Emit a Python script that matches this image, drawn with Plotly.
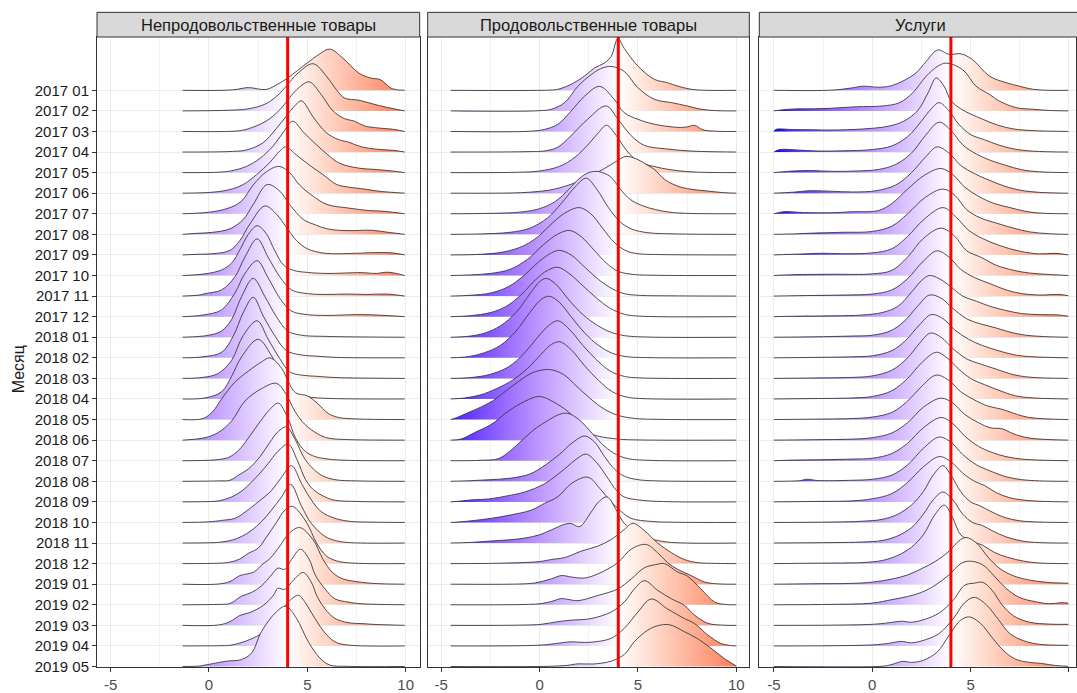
import plotly.graph_objects as go

# ---------------- data ----------------
months = ["2017 01", "2017 02", "2017 03", "2017 04", "2017 05", "2017 06", "2017 07",
          "2017 08", "2017 09", "2017 10", "2017 11", "2017 12", "2018 01", "2018 02",
          "2018 03", "2018 04", "2018 05", "2018 06", "2018 07", "2018 08", "2018 09",
          "2018 10", "2018 11", "2018 12", "2019 01", "2019 02", "2019 03", "2019 04",
          "2019 05"]
panel_titles = ["Непродовольственные товары", "Продовольственные товары", "Услуги"]
target_value = 4.0
x_tick_values = [-5, 0, 5, 10]
x_tick_labels = ["-5", "0", "5", "10"]

# each ridge: list of (x, density height in row units) points
nonfood_ridges = [
    [(-1.34,0),(1.2,0.02),(2.0,0.13),(2.9,0.04),(3.5,0.3),(4.0,0.6),(5.0,1.33),(5.6,1.75),(6.14,2.0),(6.8,1.57),(7.6,0.85),(8.2,0.6),(8.7,0.52),(9.3,0.08),(9.95,0)],
    [(-1.34,0),(1.0,0.03),(2.0,0.1),(2.9,0.35),(3.6,0.85),(4.1,1.4),(4.6,1.9),(5.3,2.29),(6.0,1.65),(6.5,1.0),(6.9,0.62),(7.6,0.52),(8.6,0.27),(9.4,0.1),(9.95,0)],
    [(-1.34,0),(1.5,0.03),(2.0,0.13),(2.9,0.5),(3.6,1.05),(4.1,1.65),(4.6,2.15),(5.1,2.41),(5.7,1.8),(6.3,1.0),(6.9,0.62),(7.4,0.5),(7.9,0.27),(8.6,0.17),(9.4,0.1),(9.95,0)],
    [(-1.34,0),(1.2,0.03),(1.9,0.1),(2.75,0.45),(3.43,1.15),(3.94,1.75),(4.37,2.25),(4.7,2.49),(5.3,1.7),(5.95,0.95),(6.6,0.6),(7.1,0.48),(7.75,0.25),(8.6,0.13),(9.4,0.08),(9.95,0)],
    [(-1.34,0),(0.5,0.02),(1.1,0.08),(1.9,0.3),(2.6,0.7),(3.27,1.3),(3.77,1.95),(4.25,2.5),(4.8,1.97),(5.3,1.5),(6.0,0.9),(6.65,0.45),(7.6,0.22),(8.5,0.15),(9.3,0.08),(9.95,0)],
    [(-1.34,0),(0.2,0.05),(1.07,0.18),(1.74,0.42),(2.42,0.9),(3.1,1.5),(3.6,2.05),(3.9,2.25),(4.45,1.85),(5.13,1.35),(5.8,0.9),(6.5,0.42),(7.07,0.3),(7.9,0.2),(8.6,0.1),(9.95,0)],
    [(-1.34,0),(-0.6,0.03),(0.2,0.1),(1.07,0.3),(1.66,0.62),(2.25,1.4),(2.93,2.05),(3.57,2.3),(4.1,2.0),(4.6,1.4),(5.3,0.85),(6.0,0.45),(7.07,0.28),(8.1,0.16),(8.9,0.12),(9.95,0)],
    [(-1.34,0),(-0.6,0.05),(0.2,0.1),(1.07,0.27),(1.74,0.72),(2.25,1.45),(2.96,2.42),(3.6,2.1),(4.1,1.45),(4.8,0.72),(5.3,0.5),(6.06,0.26),(7.07,0.18),(8.25,0.2),(9.1,0.1),(9.95,0)],
    [(-1.34,0),(-0.6,0.03),(0.2,0.06),(1.07,0.22),(1.57,0.7),(2.08,1.5),(2.84,2.38),(3.43,1.98),(3.94,1.34),(4.45,0.7),(5.0,0.3),(5.9,0.08),(7.5,0.08),(8.3,0.11),(9.3,0.1),(9.95,0)],
    [(-1.34,0),(-0.2,0.08),(0.64,0.27),(1.15,0.6),(1.6,1.3),(2.0,2.0),(2.45,2.42),(2.9,2.05),(3.35,1.2),(3.8,0.5),(4.3,0.25),(5.0,0.15),(6.0,0.1),(7.75,0.14),(8.5,0.1),(9.1,0.16),(9.95,0)],
    [(-1.34,0),(-0.5,0.05),(-0.2,0.12),(0.64,0.3),(1.32,0.94),(1.83,1.9),(2.45,2.78),(3.0,1.9),(3.6,0.94),(4.2,0.3),(5.0,0.12),(6.0,0.08),(7.0,0.1),(8.0,0.08),(9.0,0.1),(9.95,0)],
    [(-1.34,0),(-0.3,0.08),(0.64,0.33),(1.32,1.15),(1.83,2.1),(2.45,2.72),(3.0,1.9),(3.65,0.83),(4.2,0.27),(5.0,0.1),(6.0,0.06),(7.5,0.1),(8.5,0.08),(9.95,0)],
    [(-1.34,0),(-0.5,0.04),(0.0,0.1),(0.64,0.3),(1.15,0.86),(1.66,1.98),(2.25,2.86),(2.84,1.98),(3.43,1.0),(4.0,0.3),(4.7,0.1),(6.0,0.04),(9.95,0)],
    [(-1.34,0),(-0.3,0.05),(0.64,0.27),(1.24,1.07),(1.74,2.19),(2.25,2.94),(2.76,2.03),(3.35,1.07),(3.94,0.35),(4.7,0.14),(5.5,0.08),(6.5,0.02),(9.95,0)],
    [(-1.34,0),(-0.3,0.05),(0.47,0.24),(1.15,0.88),(1.74,2.08),(2.45,2.8),(3.0,1.92),(3.6,0.96),(4.1,0.32),(4.7,0.16),(5.5,0.1),(6.5,0.04),(9.95,0)],
    [(-1.34,0),(-0.2,0.05),(0.64,0.35),(1.15,1.1),(1.66,2.05),(2.5,2.9),(3.18,2.1),(3.69,1.15),(4.2,0.35),(5.0,0.11),(6.0,0.03),(9.95,0)],
    [(-1.34,0),(-0.3,0.05),(0.2,0.4),(0.64,1.0),(1.3,1.8),(2.0,2.35),(2.67,2.8),(3.1,3.0),(3.69,2.5),(4.03,1.85),(4.4,1.3),(5.0,1.15),(5.5,0.8),(6.06,0.3),(6.6,0.1),(7.5,0.03),(9.95,0)],
    [(-1.34,0),(-0.2,0.12),(0.47,0.37),(1.15,0.93),(1.83,1.9),(2.67,2.5),(3.43,2.76),(3.94,2.2),(4.37,1.4),(4.87,0.77),(5.55,0.29),(6.06,0.1),(7.0,0.03),(9.95,0)],
    [(-1.34,0),(0.2,0.03),(0.64,0.08),(1.0,0.16),(1.5,0.5),(2.0,1.1),(2.6,1.9),(3.1,2.5),(3.52,2.8),(4.0,2.1),(4.4,1.1),(4.9,0.45),(5.4,0.2),(6.06,0.08),(7.0,0.02),(9.95,0)],
    [(-1.34,0),(0.5,0.02),(1.07,0.05),(1.5,0.3),(2.0,0.6),(2.6,1.2),(3.1,1.9),(3.5,2.4),(3.94,2.64),(4.4,2.0),(4.8,1.2),(5.2,0.7),(5.7,0.3),(6.4,0.08),(7.5,0.02),(9.95,0)],
    [(-1.34,0),(0.3,0.03),(0.64,0.08),(1.15,0.24),(1.7,0.55),(2.2,1.0),(2.6,1.4),(3.0,1.85),(3.5,2.45),(4.03,2.8),(4.5,2.0),(4.9,1.1),(5.3,0.6),(5.9,0.24),(6.4,0.08),(7.5,0.02),(9.95,0)],
    [(-1.34,0),(0.0,0.03),(0.64,0.1),(1.32,0.2),(1.83,0.5),(2.5,1.0),(3.18,1.55),(3.69,2.2),(4.2,2.76),(4.7,1.9),(5.2,1.1),(5.7,0.53),(6.4,0.2),(7.2,0.05),(8.0,0.02),(9.95,0)],
    [(-1.34,0),(0.3,0.02),(0.64,0.05),(1.2,0.15),(1.66,0.32),(2.17,0.62),(2.67,1.04),(3.18,1.6),(3.69,2.24),(4.15,2.85),(4.7,1.8),(5.2,0.96),(5.9,0.32),(6.4,0.13),(7.0,0.03),(9.95,0)],
    [(-1.34,0),(0.5,0.02),(1.0,0.06),(1.57,0.22),(2.0,0.5),(2.5,0.75),(2.93,1.3),(3.43,2.0),(3.86,2.6),(4.25,2.78),(4.96,2.0),(5.47,1.0),(5.97,0.37),(6.5,0.13),(7.2,0.03),(9.95,0)],
    [(-1.34,0),(0.5,0.01),(1.07,0.13),(1.57,0.42),(1.95,0.5),(2.3,0.6),(2.7,0.95),(3.1,1.25),(3.6,1.85),(4.1,2.5),(4.62,2.75),(5.3,2.15),(5.8,1.2),(6.3,0.55),(6.8,0.26),(7.7,0.1),(8.5,0.03),(9.95,0)],
    [(-1.34,0),(0.5,0.02),(1.07,0.06),(1.66,0.42),(2.17,0.6),(2.67,0.92),(3.18,1.45),(3.5,1.78),(3.85,1.72),(4.2,2.2),(4.65,2.7),(5.1,2.2),(5.4,1.45),(5.9,0.77),(6.4,0.29),(7.07,0.13),(7.75,0.05),(9.95,0)],
    [(-1.34,0),(0.5,0.02),(1.07,0.18),(1.57,0.48),(2.08,0.62),(2.76,0.97),(3.27,1.45),(3.5,1.8),(3.85,1.75),(4.3,2.2),(4.79,2.57),(5.2,2.1),(5.5,1.4),(5.9,0.8),(6.4,0.34),(7.07,0.13),(7.9,0.08),(8.3,0.05),(9.95,0)],
    [(-1.34,0),(0.5,0.01),(1.07,0.03),(1.57,0.14),(2.25,0.38),(2.93,0.78),(3.43,1.34),(3.77,1.82),(4.1,2.2),(4.55,2.46),(4.9,2.1),(5.25,1.55),(5.85,0.69),(6.4,0.2),(7.0,0.05),(9.95,0)],
    [(-1.34,0),(-0.5,0.02),(-0.2,0.07),(0.9,0.26),(1.66,0.34),(2.17,0.66),(2.67,1.7),(3.43,2.66),(3.91,2.93),(4.45,2.34),(5.04,1.22),(5.63,0.42),(6.14,0.07),(7.0,0.01),(9.95,0)],
]

food_ridges = [
    [(-4.52,0),(0.5,0.01),(0.93,0.05),(1.6,0.29),(2.28,0.69),(2.8,1.09),(3.3,1.33),(3.64,1.65),(3.98,2.52),(4.3,2.04),(5.0,1.17),(5.84,0.53),(6.5,0.37),(7.0,0.21),(7.7,0.05),(8.5,0),(10.0,0)],
    [(-4.52,0),(0.0,0.01),(0.6,0.08),(1.27,0.4),(1.95,1.2),(2.62,1.76),(3.1,2.05),(3.64,2.16),(4.3,1.92),(5.0,1.12),(5.84,0.56),(6.7,0.4),(7.5,0.24),(8.2,0.08),(9.0,0.01),(10.0,0)],
    [(-4.52,0),(-0.5,0.01),(0.25,0.1),(0.93,0.35),(1.6,0.99),(2.28,1.71),(3.05,2.19),(3.8,1.55),(4.3,0.91),(5.0,0.59),(5.84,0.35),(7.0,0.2),(7.5,0.22),(7.87,0.3),(8.3,0.08),(9.0,0.01),(10.0,0)],
    [(-4.52,0),(-0.5,0.02),(0.3,0.06),(0.93,0.24),(1.6,0.8),(2.45,1.6),(3.38,2.24),(3.98,1.6),(4.65,0.8),(5.33,0.32),(6.35,0.16),(7.5,0.06),(8.5,0.02),(10.0,0)],
    [(-4.52,0),(-1.0,0.02),(0.0,0.08),(1.0,0.3),(1.8,0.75),(2.5,1.4),(3.0,1.95),(3.4,2.3),(3.9,1.8),(4.4,1.1),(5.0,0.55),(5.8,0.3),(6.6,0.15),(7.5,0.05),(8.5,0.01),(10.0,0)],
    [(-4.52,0),(-1.5,0.01),(-0.5,0.05),(0.5,0.15),(1.5,0.4),(2.5,0.8),(3.3,1.2),(3.9,1.55),(4.4,1.79),(5.0,1.63),(5.5,1.35),(5.84,1.15),(6.35,0.67),(7.0,0.35),(7.7,0.19),(8.5,0.11),(9.3,0.03),(10.0,0)],
    [(-4.52,0),(-2.5,0.02),(-1.0,0.08),(0.0,0.25),(0.8,0.6),(1.5,1.2),(2.0,1.7),(2.5,2.0),(3.0,2.05),(3.6,1.8),(4.1,1.2),(4.6,0.7),(5.2,0.4),(5.9,0.2),(6.6,0.08),(7.5,0.02),(10.0,0)],
    [(-4.52,0),(-3.0,0.02),(-1.5,0.1),(-0.5,0.3),(0.4,0.8),(1.1,1.5),(1.8,2.3),(2.37,2.73),(2.9,2.2),(3.5,1.3),(4.1,0.6),(4.7,0.25),(5.5,0.08),(7.0,0.02),(10.0,0)],
    [(-4.52,0),(-3.0,0.03),(-1.8,0.15),(-0.8,0.45),(0.0,0.95),(0.7,1.6),(1.4,2.1),(2.03,2.3),(2.6,2.0),(3.2,1.3),(3.8,0.6),(4.4,0.2),(5.0,0.06),(6.0,0.02),(10.0,0)],
    [(-4.52,0),(-3.5,0.03),(-2.5,0.1),(-1.5,0.3),(-0.6,0.8),(0.2,1.5),(0.9,2.0),(1.52,2.19),(2.1,1.9),(2.8,1.2),(3.4,0.6),(4.0,0.2),(4.8,0.05),(6.0,0.01),(10.0,0)],
    [(-4.52,0),(-3.5,0.04),(-2.5,0.15),(-1.6,0.45),(-0.8,1.0),(0.0,1.7),(0.6,2.1),(1.02,2.22),(1.6,2.0),(2.3,1.4),(3.0,0.8),(3.7,0.35),(4.3,0.12),(5.0,0.04),(7.0,0.01),(10.0,0)],
    [(-4.52,0),(-3.5,0.05),(-2.5,0.2),(-1.7,0.5),(-0.9,1.1),(-0.2,1.8),(0.4,2.25),(0.93,2.4),(1.5,2.1),(2.2,1.5),(2.9,0.9),(3.6,0.4),(4.3,0.12),(5.0,0.03),(10.0,0)],
    [(-4.52,0),(-3.6,0.05),(-2.8,0.2),(-2.0,0.55),(-1.2,1.2),(-0.5,2.1),(0.0,2.7),(0.34,2.86),(0.8,2.6),(1.5,1.8),(2.2,1.1),(2.9,0.6),(3.6,0.25),(4.3,0.08),(5.5,0.01),(10.0,0)],
    [(-4.52,0),(-3.6,0.06),(-2.8,0.25),(-2.0,0.6),(-1.2,1.3),(-0.5,2.2),(0.1,2.85),(0.5,2.99),(1.0,2.7),(1.6,2.0),(2.3,1.2),(3.0,0.6),(3.7,0.22),(4.4,0.06),(5.5,0.01),(10.0,0)],
    [(-4.52,0),(-3.5,0.04),(-2.5,0.2),(-1.6,0.55),(-0.8,1.2),(-0.1,2.0),(0.5,2.6),(0.93,2.8),(1.5,2.4),(2.2,1.6),(2.9,0.9),(3.6,0.35),(4.3,0.1),(5.0,0.03),(10.0,0)],
    [(-4.52,0),(-3.8,0.05),(-3.0,0.2),(-2.2,0.5),(-1.4,0.9),(-0.6,1.5),(0.2,2.3),(0.6,2.65),(1.02,2.78),(1.6,2.4),(2.3,1.6),(3.0,0.9),(3.7,0.35),(4.4,0.1),(5.2,0.02),(10.0,0)],
    [(-4.52,0),(-4.2,0.1),(-3.6,0.35),(-3.0,0.6),(-2.4,0.9),(-1.7,1.4),(-1.0,1.9),(-0.3,2.3),(0.5,2.43),(1.2,2.2),(1.9,1.6),(2.6,1.0),(3.3,0.5),(4.0,0.2),(4.8,0.06),(6.0,0.01),(10.0,0)],
    [(-4.52,0),(-4.0,0.05),(-3.3,0.37),(-2.45,0.77),(-1.6,1.4),(-0.76,1.88),(0.0,2.12),(0.93,1.73),(1.6,1.25),(2.28,0.45),(2.96,0.2),(4.0,0.05),(5.0,0.01),(10.0,0)],
    [(-4.52,0),(-3.0,0.02),(-2.1,0.1),(-1.6,0.4),(-1.0,0.9),(-0.3,1.5),(0.5,2.0),(1.0,2.25),(1.44,2.3),(2.0,2.0),(2.7,1.3),(3.3,0.7),(3.9,0.3),(4.5,0.1),(5.5,0.02),(10.0,0)],
    [(-4.52,0),(-3.5,0.03),(-2.5,0.08),(-1.5,0.15),(-0.5,0.35),(0.3,0.8),(1.0,1.3),(1.7,1.9),(2.3,2.2),(2.8,1.9),(3.3,1.2),(3.8,0.6),(4.3,0.25),(5.0,0.08),(6.0,0.02),(10.0,0)],
    [(-4.52,0),(-4.0,0.04),(-3.4,0.1),(-2.6,0.14),(-1.6,0.3),(-0.76,0.48),(0.25,0.88),(1.27,1.6),(1.9,2.1),(2.37,2.32),(2.96,1.84),(3.38,1.28),(3.9,0.56),(4.3,0.24),(5.16,0.08),(6.5,0.01),(10.0,0)],
    [(-4.52,0),(-4.0,0.03),(-3.3,0.1),(-2.45,0.2),(-1.44,0.37),(-0.42,0.6),(0.25,0.93),(0.93,1.25),(1.6,1.88),(2.45,2.2),(3.13,1.57),(3.64,1.0),(4.15,0.53),(4.65,0.2),(5.67,0.05),(7.0,0.01),(10.0,0)],
    [(-4.52,0),(-3.5,0.03),(-2.45,0.1),(-1.5,0.16),(-0.76,0.24),(0.0,0.4),(0.6,0.64),(1.3,0.92),(1.6,0.95),(2.03,0.8),(2.62,1.5),(3.0,2.0),(3.43,2.24),(3.9,1.6),(4.3,0.96),(5.0,0.4),(5.84,0.16),(6.7,0.03),(10.0,0)],
    [(-4.52,0),(-2.0,0.02),(0.0,0.1),(0.6,0.2),(1.3,0.3),(2.1,0.6),(2.96,0.85),(3.64,1.17),(4.3,1.65),(4.74,1.96),(5.33,1.6),(6.0,1.0),(6.7,0.53),(7.36,0.2),(8.0,0.05),(9.0,0.01),(10.0,0)],
    [(-4.52,0),(-1.0,0.01),(-0.25,0.06),(0.6,0.26),(1.1,0.42),(1.6,0.35),(2.28,0.3),(2.96,0.5),(3.98,1.05),(4.65,1.7),(5.41,1.93),(6.0,1.53),(6.5,1.05),(7.0,0.73),(7.7,0.42),(8.4,0.1),(9.2,0.01),(10.0,0)],
    [(-4.52,0),(-1.0,0.01),(0.0,0.05),(0.6,0.16),(1.1,0.3),(1.5,0.25),(1.95,0.2),(2.96,0.45),(3.98,0.77),(4.65,1.25),(5.33,1.8),(5.9,1.95),(6.35,2.0),(7.0,1.6),(7.5,1.4),(8.2,0.77),(8.9,0.13),(9.5,0.01),(10.0,0)],
    [(-4.52,0),(-1.0,0.01),(0.08,0.05),(0.93,0.18),(1.6,0.25),(2.62,0.33),(3.64,0.65),(4.3,1.13),(4.82,1.77),(5.33,2.17),(6.0,1.7),(6.7,1.29),(7.36,0.97),(7.87,0.5),(8.55,0.1),(9.3,0.01),(10.0,0)],
    [(-4.52,0),(-1.0,0.01),(0.2,0.05),(0.93,0.13),(1.6,0.2),(2.0,0.18),(2.62,0.18),(3.64,0.37),(4.3,0.85),(5.0,1.65),(5.67,2.28),(6.5,1.8),(7.36,1.33),(7.87,1.09),(8.55,0.53),(9.2,0.13),(9.7,0.02),(10.0,0)],
    [(-4.52,0),(0.5,0.01),(1.44,0.06),(1.95,0.13),(2.7,0.12),(3.64,0.26),(4.3,0.58),(4.82,1.21),(5.5,1.77),(6.0,1.98),(6.6,2.03),(7.36,1.69),(8.0,1.37),(8.7,0.9),(9.34,0.42),(10.0,0.02)],
]

services_ridges = [
    [(-5,0),(-2.0,0.01),(-1.0,0.12),(-0.47,0.2),(0.3,0.15),(0.88,0.2),(1.56,0.45),(2.23,0.85),(2.74,1.4),(3.33,1.96),(3.9,1.75),(4.52,1.77),(5.1,1.49),(5.96,0.69),(6.8,0.37),(7.48,0.2),(8.16,0.05),(9.0,0),(9.97,0)],
    [(-5,0),(-4.2,0.08),(-2.5,0.11),(-0.8,0.2),(0.54,0.24),(1.39,0.4),(2.06,0.88),(2.74,1.68),(3.3,2.15),(3.76,2.32),(4.6,2.0),(5.28,1.2),(5.96,0.8),(6.46,0.48),(7.3,0.16),(8.16,0.08),(9.0,0.02),(9.97,0)],
    [(-5,0),(-4.9,0.1),(-4.0,0.09),(-3.0,0.08),(-2.0,0.07),(-0.5,0.12),(0.8,0.25),(1.6,0.5),(2.3,1.0),(2.85,1.9),(3.25,2.6),(3.65,2.2),(4.0,1.5),(4.5,1.1),(5.0,0.85),(5.6,0.6),(6.4,0.3),(7.2,0.12),(8.2,0.04),(9.97,0)],
    [(-5,0),(-4.7,0.12),(-3.8,0.1),(-2.8,0.05),(-1.5,0.06),(0.0,0.12),(1.0,0.3),(1.8,0.75),(2.5,1.5),(3.0,2.1),(3.4,2.4),(3.9,2.0),(4.4,1.35),(5.0,0.85),(5.7,0.6),(6.4,0.35),(7.2,0.15),(8.2,0.04),(9.97,0)],
    [(-5,0),(-4.3,0.06),(-3.2,0.1),(-2.0,0.06),(-0.8,0.08),(0.3,0.15),(1.2,0.4),(2.0,0.95),(2.7,1.8),(3.4,2.45),(4.0,2.05),(4.6,1.35),(5.3,0.9),(6.0,0.6),(6.8,0.35),(7.6,0.14),(8.5,0.04),(9.97,0)],
    [(-5,0),(-4.0,0.05),(-3.2,0.12),(-2.2,0.1),(-1.0,0.06),(0.2,0.12),(1.2,0.4),(2.0,1.0),(2.7,1.75),(3.3,2.25),(3.9,1.95),(4.5,1.35),(5.2,0.95),(5.9,0.65),(6.7,0.35),(7.5,0.15),(8.5,0.04),(9.97,0)],
    [(-5,0),(-4.5,0.1),(-3.5,0.06),(-2.0,0.05),(-1.0,0.1),(0.3,0.15),(1.0,0.5),(1.8,1.2),(2.7,1.9),(3.5,2.2),(4.1,1.9),(4.7,1.3),(5.4,0.85),(6.2,0.5),(7.0,0.3),(7.8,0.12),(8.6,0.03),(9.97,0)],
    [(-5,0),(-4.0,0.02),(-3.0,0.06),(-1.5,0.1),(0.0,0.14),(1.0,0.4),(1.8,1.0),(2.7,1.8),(3.6,2.2),(4.2,1.9),(4.8,1.2),(5.5,0.8),(6.3,0.55),(7.2,0.3),(8.0,0.12),(9.0,0.03),(9.97,0)],
    [(-5,0),(-3.5,0.05),(-2.6,0.08),(-1.5,0.06),(0.0,0.1),(1.0,0.3),(1.8,0.9),(2.6,1.7),(3.6,2.3),(4.3,1.8),(4.9,1.2),(5.6,0.8),(6.5,0.45),(7.5,0.18),(8.5,0.05),(9.3,0.08),(9.97,0)],
    [(-5,0),(-4.0,0.04),(-2.0,0.06),(0.0,0.08),(1.0,0.25),(1.8,0.9),(2.6,1.8),(3.5,2.3),(4.2,1.9),(4.8,1.2),(5.5,0.9),(6.3,0.5),(7.2,0.25),(8.0,0.12),(9.0,0.05),(9.97,0)],
    [(-5,0),(-3.0,0.03),(-1.5,0.05),(0.0,0.1),(1.0,0.3),(1.8,0.85),(2.6,1.7),(3.3,2.2),(3.9,1.9),(4.5,1.3),(5.2,0.9),(6.0,0.6),(6.8,0.3),(7.6,0.12),(8.5,0.05),(9.5,0.08),(9.97,0.02)],
    [(-5,0),(-4.0,0.02),(-2.0,0.04),(-0.5,0.08),(0.5,0.2),(1.3,0.5),(2.0,1.2),(2.5,1.75),(2.9,2.0),(3.4,1.85),(4.0,1.45),(4.6,1.0),(5.3,0.75),(6.0,0.5),(6.8,0.3),(7.6,0.15),(8.5,0.1),(9.5,0.08),(9.97,0.02)],
    [(-5,0),(-3.0,0.02),(-1.0,0.06),(0.0,0.1),(0.9,0.3),(1.6,0.75),(2.3,1.5),(2.9,2.05),(3.5,1.9),(4.1,1.4),(4.8,0.9),(5.5,0.65),(6.3,0.45),(7.0,0.25),(7.8,0.1),(8.8,0.03),(9.97,0)],
    [(-5,0),(-3.0,0.02),(-1.0,0.05),(0.0,0.1),(1.0,0.35),(1.7,0.85),(2.4,1.6),(3.0,2.1),(3.6,1.9),(4.2,1.35),(4.9,0.9),(5.6,0.6),(6.4,0.35),(7.2,0.15),(8.0,0.06),(9.97,0)],
    [(-5,0),(-3.0,0.02),(-1.0,0.05),(0.0,0.12),(1.0,0.4),(1.8,1.0),(2.4,1.7),(2.95,2.2),(3.5,2.0),(4.1,1.45),(4.8,0.95),(5.5,0.7),(6.3,0.45),(7.1,0.2),(8.0,0.06),(9.97,0)],
    [(-5,0),(-3.0,0.02),(-1.0,0.05),(0.0,0.12),(1.0,0.4),(1.8,1.0),(2.5,1.75),(3.25,2.27),(3.8,2.0),(4.4,1.45),(5.0,1.0),(5.7,0.7),(6.5,0.4),(7.3,0.15),(8.2,0.05),(9.97,0)],
    [(-5,0),(-3.0,0.02),(-1.0,0.05),(0.0,0.12),(1.0,0.35),(1.8,0.9),(2.5,1.6),(3.25,2.16),(3.9,1.9),(4.5,1.35),(5.2,0.95),(5.9,0.65),(6.6,0.5),(7.2,0.3),(8.0,0.1),(9.97,0)],
    [(-5,0),(-3.0,0.02),(-1.0,0.05),(0.0,0.12),(1.0,0.35),(1.8,0.85),(2.6,1.6),(3.5,2.04),(4.1,1.8),(4.7,1.25),(5.4,0.85),(6.0,0.6),(6.6,0.55),(7.2,0.3),(8.0,0.1),(9.97,0)],
    [(-5,0),(-4.0,0.03),(-2.5,0.05),(-1.0,0.08),(0.0,0.12),(1.0,0.35),(1.8,0.85),(2.6,1.6),(3.5,2.1),(4.1,1.8),(4.7,1.2),(5.4,0.7),(6.1,0.4),(6.8,0.2),(7.6,0.08),(8.5,0.03),(9.97,0)],
    [(-5,0),(-3.7,0.03),(-3.3,0.1),(-2.8,0.04),(-1.0,0.05),(0.0,0.1),(1.0,0.3),(1.8,0.8),(2.6,1.6),(3.4,2.15),(4.0,1.9),(4.6,1.3),(5.3,0.8),(6.0,0.5),(6.8,0.22),(7.6,0.08),(8.5,0.02),(9.97,0)],
    [(-5,0),(-3.0,0.02),(-1.0,0.05),(0.0,0.15),(1.0,0.4),(1.8,0.95),(2.6,1.7),(3.4,2.2),(4.0,1.95),(4.6,1.4),(5.2,1.0),(5.7,0.8),(6.3,0.45),(7.0,0.2),(8.0,0.06),(9.97,0)],
    [(-5,0),(-2.0,0.02),(-0.5,0.06),(0.5,0.15),(1.3,0.4),(2.0,0.85),(2.6,1.5),(3.1,2.3),(3.59,2.76),(4.0,2.3),(4.5,1.5),(5.0,1.0),(5.5,0.8),(6.0,0.55),(6.7,0.25),(7.5,0.08),(8.5,0.02),(9.97,0)],
    [(-5,0),(-2.0,0.02),(-0.5,0.05),(0.5,0.12),(1.3,0.35),(2.0,0.75),(2.6,1.4),(3.1,2.1),(3.59,2.48),(4.1,2.1),(4.6,1.4),(5.1,1.0),(5.6,0.85),(6.1,0.6),(6.8,0.3),(7.6,0.1),(8.5,0.02),(9.97,0)],
    [(-5,0),(-3.0,0.02),(-1.5,0.03),(-0.5,0.05),(0.5,0.15),(1.3,0.4),(2.0,0.8),(2.6,1.4),(3.2,2.4),(3.67,2.84),(4.1,2.2),(4.5,1.4),(5.0,1.1),(5.6,0.9),(6.2,0.55),(6.9,0.3),(7.7,0.12),(8.5,0.03),(9.97,0)],
    [(-5,0),(-3.0,0.02),(-1.0,0.04),(0.0,0.1),(1.0,0.25),(1.8,0.45),(2.5,0.75),(3.2,1.1),(3.9,1.6),(4.4,2.1),(4.77,2.27),(5.3,2.0),(5.9,1.3),(6.5,0.75),(7.2,0.4),(8.0,0.2),(9.0,0.08),(9.97,0.05)],
    [(-5,0),(-2.0,0.02),(0.0,0.08),(1.0,0.25),(1.8,0.4),(2.5,0.6),(3.2,0.95),(3.9,1.45),(4.5,2.0),(4.94,2.12),(5.6,1.95),(6.2,1.4),(6.8,0.8),(7.5,0.35),(8.3,0.15),(9.0,0.05),(9.6,0.1),(9.97,0.08)],
    [(-5,0),(-2.0,0.01),(0.0,0.05),(0.8,0.12),(1.47,0.2),(2.0,0.15),(2.7,0.3),(3.4,0.6),(4.1,1.2),(4.7,1.95),(5.2,2.05),(5.62,2.09),(6.1,1.7),(6.6,1.0),(7.2,0.45),(8.0,0.15),(9.0,0.06),(9.97,0.05)],
    [(-5,0),(-2.0,0.01),(0.0,0.05),(0.8,0.12),(1.47,0.22),(2.0,0.15),(2.7,0.3),(3.4,0.6),(4.1,1.3),(4.7,2.1),(5.19,2.36),(5.8,2.0),(6.4,1.3),(7.0,0.6),(7.7,0.25),(8.5,0.08),(9.97,0.03)],
    [(-5,0),(0.6,0.02),(1.0,0.1),(1.56,0.25),(2.0,0.2),(2.6,0.3),(3.3,0.7),(3.9,1.5),(4.5,2.25),(4.94,2.41),(5.5,2.1),(6.1,1.4),(6.7,0.75),(7.3,0.35),(8.0,0.2),(8.6,0.15),(9.3,0.05),(9.97,0.01)],
]

panel_ridges = [nonfood_ridges, food_ridges, services_ridges]

# ---------------- styling ----------------
W, H = 1077, 693
ML, MT, MB = 97, 37, 17
PW = W - ML
PH = H - MT - MB
x_ranges = [[-5.69, 10.71], [-5.69, 10.66], [-5.74, 10.36]]
domains = [[0.0, 323 / PW], [331 / PW, 653 / PW], [663 / PW, 1.0]]
y_range = [-0.024, 30.59]
n_rows = len(months)


def _to_lab(rgb):
    def lin(c):
        c = c / 255.0
        return ((c + 0.055) / 1.055) ** 2.4 if c > 0.04045 else c / 12.92
    r, g, b = (lin(c) for c in rgb)
    X = (0.4124 * r + 0.3576 * g + 0.1805 * b) / 0.95047
    Y = (0.2126 * r + 0.7152 * g + 0.0722 * b)
    Z = (0.0193 * r + 0.1192 * g + 0.9505 * b) / 1.08883
    f = lambda t: t ** (1 / 3) if t > 0.008856 else 7.787 * t + 16 / 116
    fx, fy, fz = f(X), f(Y), f(Z)
    return (116 * fy - 16, 500 * (fx - fy), 200 * (fy - fz))


def _from_lab(lab):
    L, a, b = lab
    fy = (L + 16) / 116
    fx = fy + a / 500
    fz = fy - b / 200
    finv = lambda t: t ** 3 if t ** 3 > 0.008856 else (t - 16 / 116) / 7.787
    X, Y, Z = finv(fx) * 0.95047, finv(fy), finv(fz) * 1.08883
    r = 3.2406 * X - 1.5372 * Y - 0.4986 * Z
    g = -0.9689 * X + 1.8758 * Y + 0.0415 * Z
    bb = 0.0557 * X - 0.2040 * Y + 1.0570 * Z
    def gam(c):
        c = max(0.0, min(1.0, c))
        return 1.055 * c ** (1 / 2.4) - 0.055 if c > 0.0031308 else 12.92 * c
    return "rgb(%d,%d,%d)" % tuple(round(gam(c) * 255) for c in (r, g, bb))


low_lab, mid_lab, high_lab = _to_lab((0, 0, 255)), _to_lab((255, 255, 255)), _to_lab((255, 0, 0))
colorscale = []
steps = 20
for k in range(steps + 1):
    t = k / steps
    if t <= 0.5:
        u = t / 0.5
        lab = tuple(low_lab[j] + (mid_lab[j] - low_lab[j]) * u for j in range(3))
    else:
        u = (t - 0.5) / 0.5
        lab = tuple(mid_lab[j] + (high_lab[j] - mid_lab[j]) * u for j in range(3))
    colorscale.append([t, _from_lab(lab)])
grad_half = 9.0
grad_start, grad_stop = target_value - grad_half, target_value + grad_half

fig = go.Figure()
for p, ridges in enumerate(panel_ridges):
    xa = "x" if p == 0 else "x%d" % (p + 1)
    ya = "y" if p == 0 else "y%d" % (p + 1)
    for i, knots in enumerate(ridges):
        base = n_rows - 1 - i
        xs = [k[0] for k in knots]
        ys = [base + k[1] for k in knots]
        fig.add_trace(go.Scatter(x=[xs[0], xs[-1]], y=[base, base], mode="lines",
                                 line=dict(width=0, color="rgba(0,0,0,0)"),
                                 hoverinfo="skip", showlegend=False, xaxis=xa, yaxis=ya))
        fig.add_trace(go.Scatter(x=xs, y=ys, mode="lines",
                                 line=dict(color="#3a3a3a", width=0.9, shape="spline", smoothing=1.0),
                                 fill="tonexty",
                                 fillgradient=dict(type="horizontal", colorscale=colorscale,
                                                   start=grad_start, stop=grad_stop),
                                 hoverinfo="skip", showlegend=False, xaxis=xa, yaxis=ya))

layout = dict(width=W, height=H, margin=dict(l=ML, r=0, t=MT, b=MB),
              paper_bgcolor="white", plot_bgcolor="white", showlegend=False,
              font=dict(family="Liberation Sans, Arial, sans-serif", color="#1a1a1a"))
shapes, annotations = [], []
for p in range(3):
    sfx = "" if p == 0 else str(p + 1)
    layout["xaxis" + sfx] = dict(domain=domains[p], range=x_ranges[p], anchor="y" + sfx,
                                 tickvals=x_tick_values, ticktext=x_tick_labels,
                                 ticks="outside", ticklen=4,
                                 tickcolor="#333333", tickfont=dict(size=15, color="#4d4d4d"),
                                 showgrid=True, gridcolor="#ebebeb", gridwidth=1,
                                 minor=dict(tickvals=[-2.5, 2.5, 7.5], showgrid=True,
                                            gridcolor="#f2f2f2", ticks=""),
                                 showline=True, linecolor="#333333", linewidth=1, mirror=True,
                                 zeroline=False, fixedrange=True)
    layout["yaxis" + sfx] = dict(domain=[0, 1], range=y_range, anchor="x" + sfx,
                                 tickvals=list(range(n_rows)),
                                 ticktext=list(reversed(months)),
                                 showticklabels=(p == 0), ticks="outside" if p == 0 else "",
                                 ticklen=4, tickcolor="#333333",
                                 tickfont=dict(size=15, color="#1a1a1a"),
                                 showgrid=True, gridcolor="#ebebeb", gridwidth=1,
                                 showline=True, linecolor="#333333", linewidth=1, mirror=True,
                                 zeroline=False, fixedrange=True)
    shapes.append(dict(type="line", xref="x" + sfx, yref="y%s domain" % sfx,
                       x0=target_value, x1=target_value, y0=0, y1=1,
                       line=dict(color="#ff0000", width=3), layer="above"))
    x1 = domains[p][1] if p < 2 else 1.02
    shapes.append(dict(type="rect", xref="paper", yref="paper",
                       x0=domains[p][0], x1=x1, y0=1.0, y1=1.0 + 25 / PH,
                       fillcolor="#d9d9d9", line=dict(color="#333333", width=1), layer="above"))
    cx = (domains[p][0] + domains[p][1]) / 2 if p < 2 else (921 - ML) / PW
    annotations.append(dict(text=panel_titles[p], xref="paper", yref="paper", x=cx,
                            y=1.0 + 12.5 / PH, xanchor="center", yanchor="middle",
                            showarrow=False, font=dict(size=16.5, color="#1a1a1a")))

annotations.append(dict(text="Месяц", xref="paper", yref="paper", x=(18 - ML) / PW,
                        y=(676 - 374) / PH, textangle=-90, xanchor="center", yanchor="middle",
                        showarrow=False, font=dict(size=16, color="#1a1a1a")))
layout["shapes"] = shapes
layout["annotations"] = annotations
fig.update_layout(**layout)
fig.write_html("out.html",
               config={"displayModeBar": False, "staticPlot": True},
               post_script="document.body.style.margin='0px';document.body.style.padding='0px';"
                           "document.body.style.overflow='hidden';")
